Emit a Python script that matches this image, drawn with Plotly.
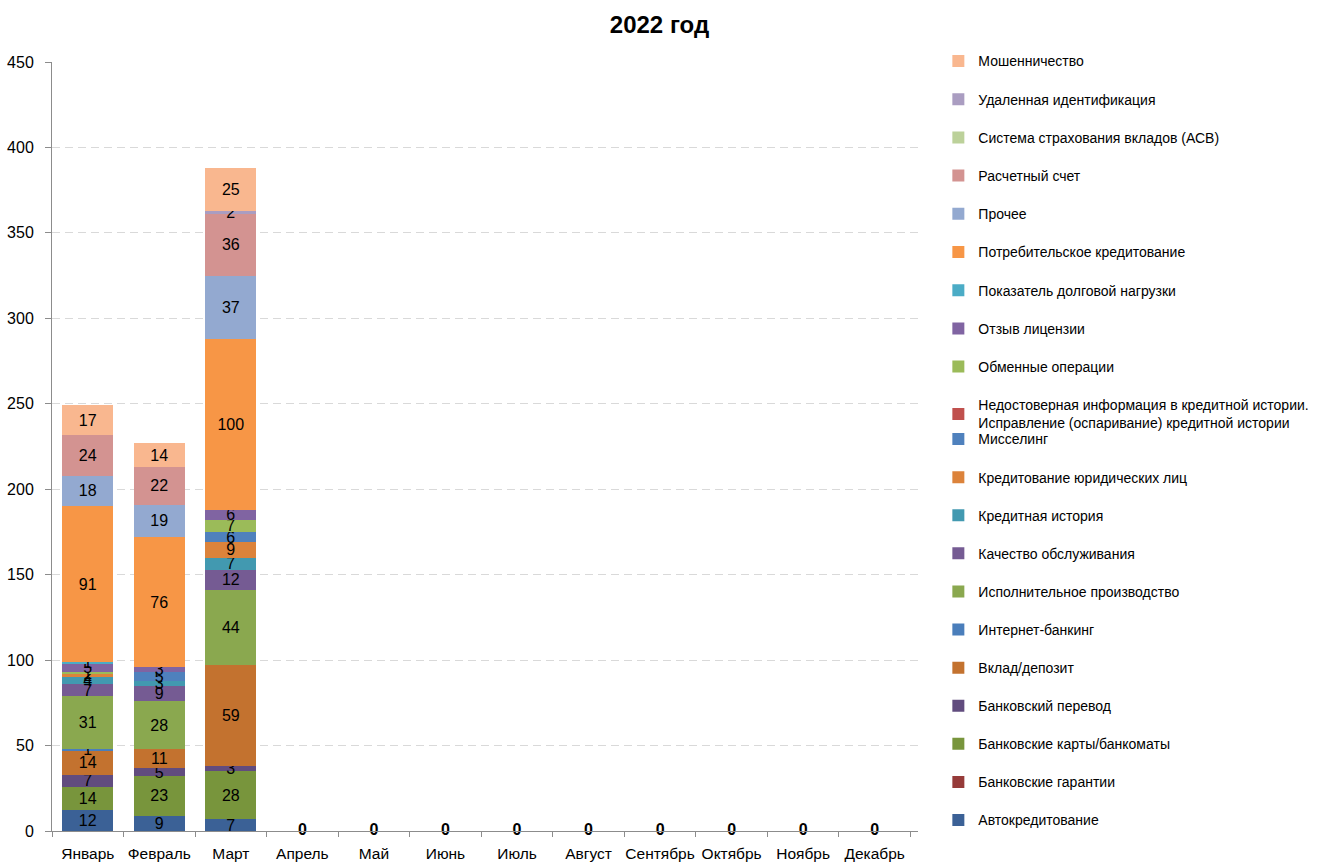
import plotly.graph_objects as go

# Месяцы 2022 года
months = ["Январь", "Февраль", "Март", "Апрель", "Май", "Июнь", "Июль",
          "Август", "Сентябрь", "Октябрь", "Ноябрь", "Декабрь"]

# Тематики обращений (снизу вверх по стопке)
topics = [
    "Автокредитование",
    "Банковские гарантии",
    "Банковские карты/банкоматы",
    "Банковский перевод",
    "Вклад/депозит",
    "Интернет-банкинг",
    "Исполнительное производство",
    "Качество обслуживания",
    "Кредитная история",
    "Кредитование юридических лиц",
    "Мисселинг",
    "Недостоверная информация в кредитной истории.<br>Исправление (оспаривание) кредитной истории",
    "Обменные операции",
    "Отзыв лицензии",
    "Показатель долговой нагрузки",
    "Потребительское кредитование",
    "Прочее",
    "Расчетный счет",
    "Система страхования вкладов (АСВ)",
    "Удаленная идентификация",
    "Мошенничество",
]

# Количество обращений по тематикам за месяц (в порядке topics)
jan = [12, 0, 14, 7, 14, 1, 31, 7, 4, 2, 0, 0, 1, 5, 1, 91, 18, 24, 0, 0, 17]
feb = [9, 0, 23, 5, 11, 0, 28, 9, 3, 0, 5, 0, 0, 3, 0, 76, 19, 22, 0, 0, 14]
mar = [7, 0, 28, 3, 59, 0, 44, 12, 7, 9, 6, 0, 7, 6, 0, 100, 37, 36, 0, 2, 25]
apr = [0] * 21
may = [0] * 21
jun = [0] * 21
jul = [0] * 21
aug = [0] * 21
sep = [0] * 21
oct_ = [0] * 21
nov = [0] * 21
dec = [0] * 21

by_month = [jan, feb, mar, apr, may, jun, jul, aug, sep, oct_, nov, dec]

colors = [
    "#3b6196", "#963b39", "#78953c", "#614c7e", "#c3722f", "#4a7ebb",
    "#8aa84f", "#755b93", "#4299b0", "#dc833b", "#4f81bd", "#c0504d",
    "#9bbb59", "#8064a2", "#4bacc6", "#f79646", "#93a9d0", "#d39391",
    "#bcd19a", "#aa9dc1", "#f9b78f",
]

FONT = "Liberation Sans, Arial, sans-serif"

# Легенда разбита на два блока один под другим:
# верхний — от «Мошенничество» до «Недостоверная информация…»
SPLIT = 11

fig = go.Figure()

for i, name in enumerate(topics):
    vals = [m[i] for m in by_month]
    labels = [str(v) if v > 0 else "" for v in vals]
    fig.add_trace(go.Bar(
        x=months,
        y=vals,
        name=name,
        legend="legend" if i >= SPLIT else "legend2",
        legendgroup=name,
        legendrank=1000 - i,
        marker=dict(color=colors[i], line=dict(width=0)),
        text=labels,
        textposition="inside",
        insidetextanchor="middle",
        textangle=0,
        constraintext="none",
        insidetextfont=dict(family=FONT, size=16, color="#000000"),
        cliponaxis=False,
    ))

# Подписи итогов для месяцев без обращений
totals = [sum(m) for m in by_month]
zero_x = [mo for mo, t in zip(months, totals) if t == 0]
zero_t = [str(t) for t in totals if t == 0]
fig.add_trace(go.Scatter(
    x=zero_x,
    y=[0] * len(zero_x),
    mode="text",
    text=zero_t,
    textposition="middle center",
    textfont=dict(family=FONT, size=16, color="#000000", weight="bold"),
    showlegend=False,
    hoverinfo="skip",
    cliponaxis=False,
))

legend_style = dict(
    traceorder="grouped",
    xanchor="left",
    yanchor="top",
    font=dict(family=FONT, size=14, color="#000000"),
    bgcolor="rgba(0,0,0,0)",
    itemclick=False,
    itemdoubleclick=False,
)

fig.update_layout(
    width=1319,
    height=865,
    barmode="stack",
    bargap=0.29,
    paper_bgcolor="#ffffff",
    plot_bgcolor="#ffffff",
    margin=dict(l=52, r=401, t=62, b=34, autoexpand=False),
    title=dict(
        text="<b>2022 год</b>",
        x=0.5, xref="container", xanchor="center",
        y=0.972, yanchor="middle",
        font=dict(family=FONT, size=24, color="#000000"),
    ),
    uniformtext=dict(minsize=16, mode="show"),
    showlegend=True,
    legend=dict(legend_style, x=1.0235, y=1.0216, tracegroupgap=17),
    legend2=dict(legend_style, x=1.0235, y=0.5300, tracegroupgap=16.9),
    xaxis=dict(
        type="category",
        categoryorder="array",
        categoryarray=months,
        showline=True,
        linecolor="#8c8c8c",
        linewidth=1,
        ticks="outside",
        tickson="boundaries",
        ticklen=5,
        tickcolor="#8c8c8c",
        tickangle=0,
        ticklabelstandoff=8,
        tickfont=dict(family=FONT, size=15.5, color="#000000"),
        showgrid=False,
        zeroline=False,
    ),
    yaxis=dict(
        range=[0, 450],
        tickvals=[0, 50, 100, 150, 200, 250, 300, 350, 400, 450],
        showline=True,
        linecolor="#8c8c8c",
        linewidth=1,
        ticks="outside",
        ticklen=6,
        tickcolor="#8c8c8c",
        ticklabelstandoff=8,
        tickfont=dict(family=FONT, size=16, color="#000000"),
        showgrid=True,
        gridcolor="#d9d9d9",
        griddash="8px,5px",
        gridwidth=1,
        zeroline=False,
    ),
)

fig.write_html("out.html")
